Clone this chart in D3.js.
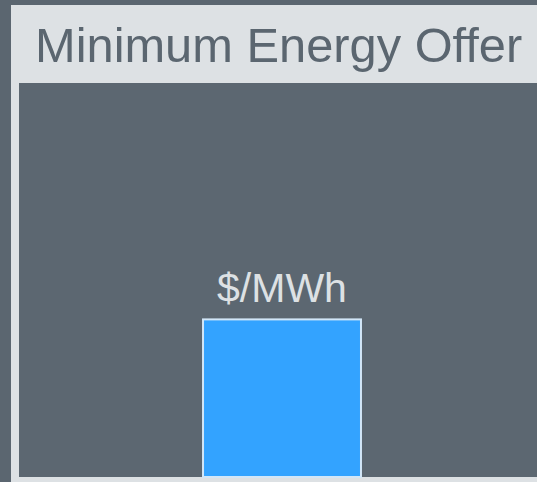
<!DOCTYPE html>
<html>
<head>
<meta charset="utf-8">
<script src="https://cdn.jsdelivr.net/npm/d3@7"></script>
<style>
  html, body { margin: 0; padding: 0; background: #5b6670; overflow: hidden; }
  svg { display: block; font-family: "Liberation Sans", Arial, sans-serif; }
</style>
</head>
<body>
<div class="Graph"></div>
<script>
var title = "Minimum Energy Offer";
var categories = ["Offer"];
var values = [40];
var units = ["$/MWh"];
var yMax = 100;

var W = 537, H = 482;

var panel = { left: 11, top: 5, right: 551, bottom: 482 };
var plot = { left: 19, top: 83, right: 545, bottom: 477 };

var svg = d3.select(".Graph")
    .append("svg")
    .attr("width", W)
    .attr("height", H);

svg.append("rect")
    .attr("x", 0).attr("y", 0)
    .attr("width", W).attr("height", H)
    .attr("fill", "#5b6670");

// light panel with header
svg.append("rect")
    .attr("x", panel.left).attr("y", panel.top)
    .attr("width", panel.right - panel.left)
    .attr("height", panel.bottom - panel.top)
    .attr("fill", "#dde1e4");

svg.append("text")
    .attr("x", 35)
    .attr("y", 61.5)
    .attr("fill", "#5b6670")
    .style("font-size", "48.8px")
    .text(title);

// plot area
svg.append("rect")
    .attr("x", plot.left).attr("y", plot.top)
    .attr("width", plot.right - plot.left + 10)
    .attr("height", plot.bottom - plot.top)
    .attr("fill", "#5c6771");

var x = d3.scaleBand()
    .domain(categories)
    .range([plot.left, plot.right])
    .paddingInner(0)
    .paddingOuter(1.165);

var y = d3.scaleLinear()
    .domain([0, yMax])
    .range([plot.bottom, plot.top]);

var g = svg.append("g");

g.selectAll(".bar")
    .data(values)
    .enter()
    .append("rect")
    .attr("class", "bar")
    .attr("x", (d, i) => x(categories[i]))
    .attr("y", d => y(d))
    .attr("width", x.bandwidth())
    .attr("height", d => plot.bottom - y(d))
    .attr("fill", "#33a3ff")
    .attr("stroke", "#d2e6f7")
    .style("stroke-width", 2);

g.selectAll(".unit")
    .data(values)
    .enter()
    .append("text")
    .attr("class", "unit")
    .attr("x", (d, i) => x(categories[i]) + x.bandwidth() / 2)
    .attr("y", d => y(d) - 17.5)
    .attr("text-anchor", "middle")
    .attr("fill", "#dde1e4")
    .style("font-size", "41px")
    .text((d, i) => units[i]);
</script>
</body>
</html>
